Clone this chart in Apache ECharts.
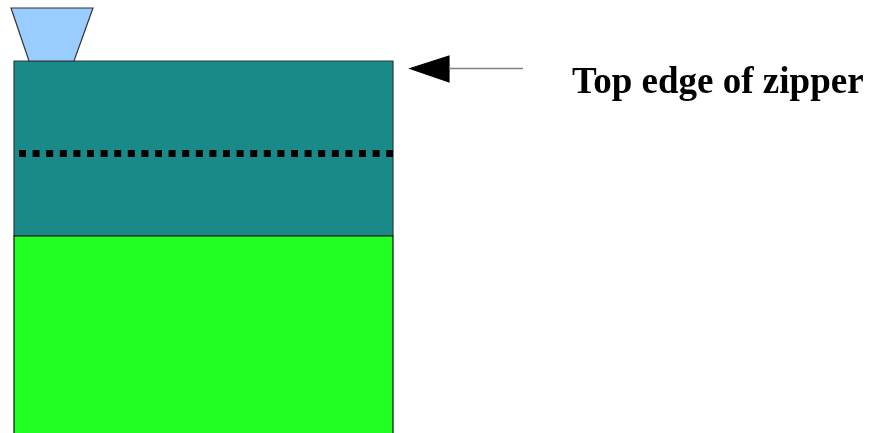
<!DOCTYPE html>
<html><head><meta charset="utf-8">
<script src="https://cdn.jsdelivr.net/npm/echarts@6/dist/echarts.min.js"></script>
<style>html,body{margin:0;padding:0;background:#fff}#c{width:877px;height:433px}</style>
</head><body><div id="c"></div>
<script>
// Diagram geometry in axis units (x: 0..877, y: 0..433, downward)
const zipperBody = [14, 61, 393, 236];     // teal part [x0, y0, x1, y1]
const lowerBody = [14, 236, 393, 440];     // green part
const slider = [[11, 8], [93, 8], [74, 61], [29, 61]];
const dottedLine = [[19, 153.5], [393, 153.5]];
const arrowShaft = [[523, 68.5], [449, 68.5]];
const arrowHead = [[410, 68.5], [449, 56], [449, 82]];
const labelPos = [572, 65];
const labelText = 'Top edge of zipper';

const chart = echarts.init(document.getElementById('c'), null, {renderer: 'canvas'});

function rectSeries(rect, fill, stroke) {
  return {
    type: 'custom', data: [rect], silent: true,
    renderItem: (p, api) => {
      const a = api.coord([api.value(0), api.value(1)]);
      const b = api.coord([api.value(2), api.value(3)]);
      return {type: 'rect', shape: {x: a[0], y: a[1], width: b[0] - a[0], height: b[1] - a[1]},
        style: {fill: fill, stroke: stroke, lineWidth: 1.2}};
    }
  };
}
function polySeries(pts, fill, stroke) {
  return {
    type: 'custom', data: [0], silent: true,
    renderItem: (p, api) => ({type: 'polygon',
      shape: {points: pts.map(q => api.coord(q))},
      style: {fill: fill, stroke: stroke, lineWidth: 1.2}})
  };
}

chart.setOption({
  animation: false,
  grid: {left: 0, right: 0, top: 0, bottom: 0},
  xAxis: {type: 'value', min: 0, max: 877, show: false},
  yAxis: {type: 'value', min: 0, max: 433, inverse: true, show: false},
  series: [
    rectSeries(zipperBody, '#198a87', '#2b3b3b'),
    rectSeries(lowerBody, '#22ff22', '#111'),
    polySeries(slider, '#99ccff', '#333'),
    {type: 'line', data: dottedLine, symbol: 'none', silent: true,
      lineStyle: {color: '#000', width: 7, type: [7, 6.6], cap: 'butt'}},
    {type: 'line', data: arrowShaft, symbol: 'none', silent: true,
      lineStyle: {color: '#808080', width: 1.5}},
    polySeries(arrowHead, '#000', '#000'),
    {type: 'custom', data: [labelPos], silent: true,
      renderItem: (p, api) => {
        const c = api.coord([api.value(0), api.value(1)]);
        return {type: 'text', x: c[0], y: c[1],
          style: {text: labelText, fill: '#000', font: 'bold 37px "Liberation Serif", serif',
            align: 'left', verticalAlign: 'top'}};
      }}
  ]
});
</script></body></html>
